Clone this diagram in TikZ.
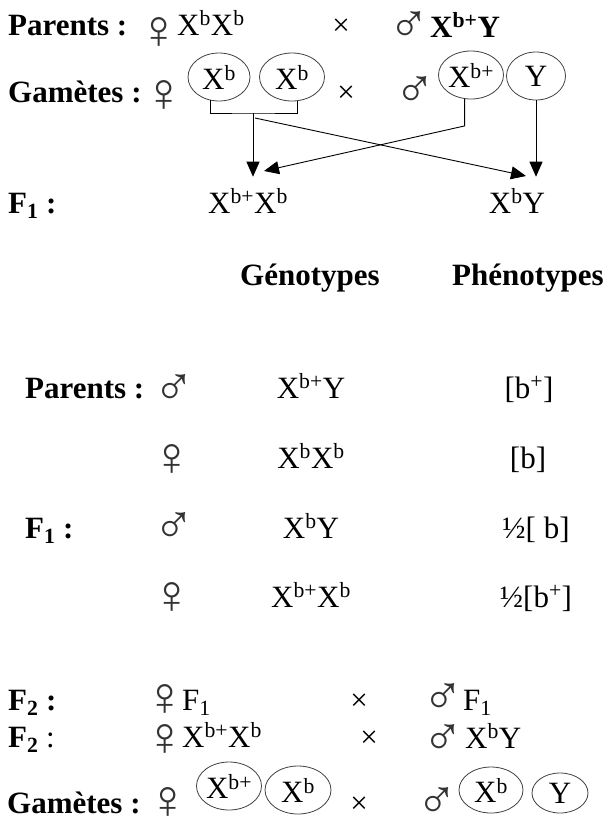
\documentclass[tikz,border=0pt]{standalone}
\usepackage{fontspec}
\setmainfont{Liberation Serif}
\usetikzlibrary{shapes.geometric,arrows.meta}
\newcommand{\fs}{\fontsize{31}{36}\selectfont}
\newcommand{\xb}{X\textsuperscript{b}}
\newcommand{\xbp}{X\textsuperscript{b+}}

\begin{document}
\begin{tikzpicture}[x=1pt,y=-1pt,
  every node/.style={inner sep=0pt,font=\fs},
  lab/.style={anchor=base west,font=\fs\bfseries},
  txt/.style={anchor=base west},
  sym/.style={anchor=center,text=black!80,font=\fontsize{55}{60}\selectfont},
  col/.style={anchor=base},
  gam/.style={draw=black!75,line width=0.8pt,ellipse,minimum width=62pt,minimum height=48pt},
  arr/.style={line width=0.9pt,-{Triangle[length=15pt,width=13pt]}}]
  \useasboundingbox (0,0) rectangle (610,820);
  % parents
  \node[lab] (parA) at (8,35) {Parents :};
  \node[sym] (femA) at (159,33) {♀};
  \node[txt] (genA) at (177,35) {\xb\xb};
  \node[col] (crA) at (341,35) {×};
  \node[sym] (malA) at (409,27) {♂};
  \node[lab] (genB) at (430,37) {\xbp Y};
  % gametes
  \node[lab] (gamA) at (8,102) {Gamètes :};
  \node[sym] (femB) at (164,96) {♀};
  \node[gam] (gA1) at (219,77) {\xb};
  \node[gam,minimum width=65pt] (gA2) at (292,77) {\xb};
  \node[col] (crB) at (346,102) {×};
  \node[sym] (malB) at (415,92) {♂};
  \node[gam] (gA3) at (471,75) {\xbp};
  \node[gam,minimum width=59pt] (gA4) at (536,76) {Y};
  % F1
  \node[lab] (fA) at (8,213) {F\textsubscript{1} :};
  \node[col] (f1a) at (248,213) {\xbp\xb};
  \node[col] (f1b) at (517,213) {\xb Y};
  % connectors
  \coordinate (brk) at (253,113);
  \coordinate (brkd) at (255,118);
  \coordinate (tipL) at (264,171);
  \coordinate (tipR) at (526,176);
  \draw[line width=0.9pt] (gA1.250) |- (brk) -| (gA2.283);
  \draw[arr,shorten >=12pt] (brk) -- (brk |- f1a.north);
  \draw[arr] (brkd) -- (tipR);
  \draw[arr] (gA3.255) -- ++(0,27) -- (tipL);
  \draw[arr,shorten >=12pt] (gA4.south) -- (gA4.south |- f1b.north);
  % table
  \node[lab] (hG) at (240,285) {Génotypes};
  \node[lab] (hP) at (452,285) {Phénotypes};
  \node[lab] (tP) at (25,398) {Parents :};
  \node[sym] (s1) at (174,390) {♂};
  \node[col] (g1) at (311,398) {\xbp Y};
  \node[col] (p1) at (529,398) {[b\textsuperscript{+}]};
  \node[sym] (s2) at (172,460) {♀};
  \node[col] (g2) at (311,468) {\xb\xb};
  \node[col] (p2) at (528,468) {[b]};
  \node[lab] (tF) at (25,538) {F\textsubscript{1} :};
  \node[sym] (s3) at (174,528) {♂};
  \node[col] (g3) at (311,538) {\xb Y};
  \node[col] (p3) at (536,538) {½[ b]};
  \node[sym] (s4) at (172,598) {♀};
  \node[col] (g4) at (311,607) {\xbp\xb};
  \node[col] (p4) at (536,607) {½[b\textsuperscript{+}]};
  % F2
  \node[lab] (fB) at (8,710) {F\textsubscript{2} :};
  \node[sym] (femC) at (165,700) {♀};
  \node[txt] (fC1) at (182,710) {F\textsubscript{1}};
  \node[col] (crC) at (359,710) {×};
  \node[sym] (malC) at (443,699) {♂};
  \node[txt] (fC2) at (463,710) {F\textsubscript{1}};
  \node[txt] (fD) at (8,747) {\textbf{F\textsubscript{2}} :};
  \node[sym] (femD) at (165,740) {♀};
  \node[txt] (genD1) at (182,747) {\xbp\xb};
  \node[col] (crD) at (369,747) {×};
  \node[sym] (malD) at (443,740) {♂};
  \node[txt] (genD2) at (465,748) {\xb Y};
  % F2 gametes
  \node[lab] (gamB) at (7,813) {Gamètes :};
  \node[sym] (femE) at (168,803) {♀};
  \node[gam,minimum width=60pt] (gB1) at (229,786) {\xbp};
  \node[gam,minimum width=66pt] (gB2) at (298,790) {\xb};
  \node[col] (crE) at (359,813) {×};
  \node[sym] (malE) at (437,803) {♂};
  \node[gam,minimum width=64pt,minimum height=46pt] (gB3) at (491,790) {\xb};
  \node[gam,minimum width=56pt,minimum height=40pt] (gB4) at (560,793) {Y};
\end{tikzpicture}
\end{document}
